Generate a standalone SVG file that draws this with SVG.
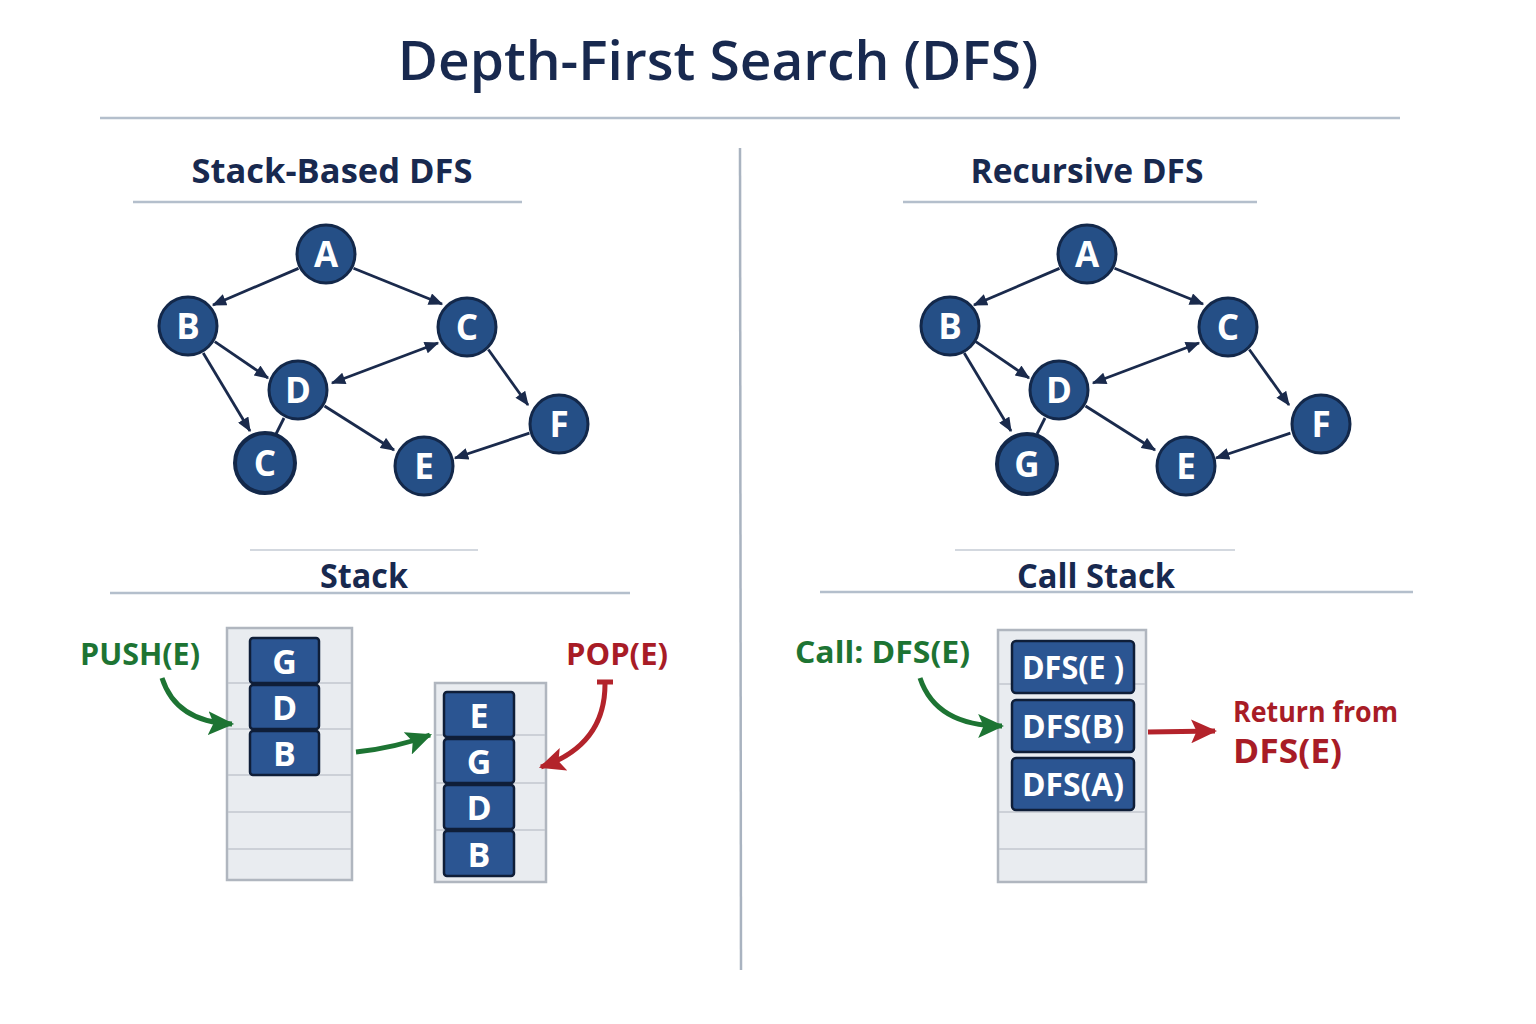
<svg xmlns="http://www.w3.org/2000/svg" width="1536" height="1024" viewBox="0 0 1536 1024">
<defs>
<style>
.title{font-family:"Open Sans","Noto Sans","Liberation Sans",sans-serif;font-weight:600;fill:#18294f;}
.sub{font-family:"Open Sans","Noto Sans","Liberation Sans",sans-serif;font-weight:700;fill:#18294f;font-size:34px;}
.node circle{fill:#254f86;stroke:#13284a;stroke-width:3;}
.node text{font-family:"Open Sans","Noto Sans","Liberation Sans",sans-serif;font-weight:700;fill:#fff;font-size:35px;text-anchor:middle;}
.edge{stroke:#1a2a4c;stroke-width:2.8;fill:none;}
.rule{stroke:#b4bfcc;stroke-width:2.5;fill:none;}
.box{fill:#e9ecf0;stroke:#b0b6bf;stroke-width:2.5;}
.row{stroke:#c2c7cf;stroke-width:1.5;}
.blk rect{fill:#2b5592;stroke:#0f1e38;stroke-width:2.5;}
.blk text{font-family:"Open Sans","Noto Sans","Liberation Sans",sans-serif;font-weight:700;fill:#fff;font-size:34px;text-anchor:middle;}
.green{fill:#1d7433;font-family:"Open Sans","Noto Sans","Liberation Sans",sans-serif;font-weight:700;font-size:30px;}
.red{fill:#a81c26;font-family:"Open Sans","Noto Sans","Liberation Sans",sans-serif;font-weight:700;}
.garrow{stroke:#1d7433;stroke-width:5;fill:none;}
.rarrow{stroke:#b3232b;stroke-width:5;fill:none;}
</style>
<marker id="ah" viewBox="0 0 12 10" refX="11" refY="5" markerWidth="15" markerHeight="12" markerUnits="userSpaceOnUse" orient="auto-start-reverse">
<path d="M0,0 L12,5 L0,10 z" fill="#1a2a4c"/>
</marker>
<marker id="gh" viewBox="0 0 24 22" refX="22" refY="11" markerWidth="26" markerHeight="24" markerUnits="userSpaceOnUse" orient="auto">
<path d="M0,0 L24,11 L0,22 L5,11 z" fill="#1d7433"/>
</marker>
<marker id="rh" viewBox="0 0 24 22" refX="22" refY="11" markerWidth="26" markerHeight="24" markerUnits="userSpaceOnUse" orient="auto">
<path d="M0,0 L24,11 L0,22 L5,11 z" fill="#b3232b"/>
</marker>
</defs>
<rect width="1536" height="1024" fill="#ffffff"/>

<text class="title" x="718" y="80" font-size="55" text-anchor="middle">Depth-First Search (DFS)</text>
<line class="rule" x1="100" y1="118" x2="1400" y2="118"/>
<line x1="740" y1="148" x2="741" y2="970" stroke="#a9b3c0" stroke-width="2.5"/>

<text class="sub" x="332" y="183" text-anchor="middle" textLength="281" lengthAdjust="spacingAndGlyphs">Stack-Based DFS</text>
<line class="rule" x1="133" y1="202" x2="522" y2="202"/>
<text class="sub" x="1087" y="183" text-anchor="middle" textLength="233" lengthAdjust="spacingAndGlyphs">Recursive DFS</text>
<line class="rule" x1="903" y1="202" x2="1257" y2="202"/>

<!-- Left graph connectors -->
<g id="connectors-left">
<line class="edge" x1="298.5" y1="268.4" x2="213" y2="305" marker-end="url(#ah)"/>
<line class="edge" x1="353.5" y1="268.3" x2="442" y2="304" marker-end="url(#ah)"/>
<line class="edge" x1="214.8" y1="341.6" x2="268" y2="378" marker-end="url(#ah)"/>
<line class="edge" x1="203.2" y1="353" x2="250" y2="431" marker-end="url(#ah)"/>
<line class="edge" x1="332" y1="383" x2="438" y2="343" marker-start="url(#ah)" marker-end="url(#ah)"/>
<line class="edge" x1="488.3" y1="349.5" x2="528" y2="405" marker-end="url(#ah)"/>
<line class="edge" x1="529.4" y1="433.2" x2="455" y2="458" marker-end="url(#ah)"/>
<line class="edge" x1="324.5" y1="406" x2="394" y2="450" marker-end="url(#ah)"/>
<line class="edge" x1="284" y1="418" x2="276" y2="434"/>
</g>
<g id="L-A" class="node"><circle cx="326" cy="254" r="29"/><text x="326" y="267">A</text></g>
<g id="L-B" class="node"><circle cx="188" cy="326" r="29"/><text x="188" y="339">B</text></g>
<g id="L-C" class="node"><circle cx="467" cy="327" r="29"/><text x="467" y="340">C</text></g>
<g id="L-D" class="node"><circle cx="298" cy="390" r="29"/><text x="298" y="403">D</text></g>
<g id="L-F" class="node"><circle cx="559" cy="424" r="29"/><text x="559" y="437">F</text></g>
<g id="L-C2" class="node"><circle cx="265" cy="463" r="30" style="stroke-width:4"/><text x="265" y="476">C</text></g>
<g id="L-E" class="node"><circle cx="424" cy="466" r="29"/><text x="424" y="479">E</text></g>

<!-- Right graph connectors -->
<g id="connectors-right" transform="translate(761,0)">
<line class="edge" x1="298.5" y1="268.4" x2="213" y2="305" marker-end="url(#ah)"/>
<line class="edge" x1="353.5" y1="268.3" x2="442" y2="304" marker-end="url(#ah)"/>
<line class="edge" x1="214.8" y1="341.6" x2="268" y2="378" marker-end="url(#ah)"/>
<line class="edge" x1="203.2" y1="353" x2="250" y2="431" marker-end="url(#ah)"/>
<line class="edge" x1="332" y1="383" x2="438" y2="343" marker-start="url(#ah)" marker-end="url(#ah)"/>
<line class="edge" x1="488.3" y1="349.5" x2="528" y2="405" marker-end="url(#ah)"/>
<line class="edge" x1="529.4" y1="433.2" x2="455" y2="458" marker-end="url(#ah)"/>
<line class="edge" x1="324.5" y1="406" x2="394" y2="450" marker-end="url(#ah)"/>
<line class="edge" x1="284" y1="418" x2="276" y2="434"/>
</g>
<g id="R-A" class="node"><circle cx="1087" cy="254" r="29"/><text x="1087" y="267">A</text></g>
<g id="R-B" class="node"><circle cx="950" cy="326" r="29"/><text x="950" y="339">B</text></g>
<g id="R-C" class="node"><circle cx="1228" cy="327" r="29"/><text x="1228" y="340">C</text></g>
<g id="R-D" class="node"><circle cx="1059" cy="390" r="29"/><text x="1059" y="403">D</text></g>
<g id="R-F" class="node"><circle cx="1321" cy="424" r="29"/><text x="1321" y="437">F</text></g>
<g id="R-G" class="node"><circle cx="1027" cy="464" r="30" style="stroke-width:4"/><text x="1027" y="477">G</text></g>
<g id="R-E" class="node"><circle cx="1186" cy="466" r="29"/><text x="1186" y="479">E</text></g>

<!-- Section headers -->
<line x1="250" y1="550" x2="478" y2="550" stroke="#d3d8df" stroke-width="2"/>
<text class="sub" x="364" y="588" text-anchor="middle" textLength="88" lengthAdjust="spacingAndGlyphs">Stack</text>
<line class="rule" x1="110" y1="593" x2="630" y2="593"/>
<line x1="955" y1="550" x2="1235" y2="550" stroke="#d3d8df" stroke-width="2"/>
<text class="sub" x="1096" y="588" text-anchor="middle" textLength="158" lengthAdjust="spacingAndGlyphs">Call Stack</text>
<line class="rule" x1="820" y1="592" x2="1413" y2="592"/>

<!-- Left stack 1 -->
<g id="stack1">
<rect class="box" x="227" y="628" width="125" height="252"/>
<line class="row" x1="228" y1="683" x2="351" y2="683"/>
<line class="row" x1="228" y1="729" x2="351" y2="729"/>
<line class="row" x1="228" y1="775" x2="351" y2="775"/>
<line class="row" x1="228" y1="812" x2="351" y2="812"/>
<line class="row" x1="228" y1="849" x2="351" y2="849"/>
<g class="blk"><rect x="250" y="638" width="69" height="45" rx="3"/><text x="284.5" y="674">G</text></g>
<g class="blk"><rect x="250" y="685" width="69" height="44" rx="3"/><text x="284.5" y="720">D</text></g>
<g class="blk"><rect x="250" y="731" width="69" height="44" rx="3"/><text x="284.5" y="766">B</text></g>
</g>

<!-- Left stack 2 -->
<g id="stack2">
<rect class="box" x="435" y="683" width="111" height="199"/>
<line class="row" x1="436" y1="735" x2="545" y2="735"/>
<line class="row" x1="436" y1="783" x2="545" y2="783"/>
<line class="row" x1="436" y1="830" x2="545" y2="830"/>
<g class="blk"><rect x="444" y="692" width="70" height="45" rx="3"/><text x="479" y="728">E</text></g>
<g class="blk"><rect x="444" y="739" width="70" height="44" rx="3"/><text x="479" y="774">G</text></g>
<g class="blk"><rect x="444" y="785" width="70" height="44" rx="3"/><text x="479" y="820">D</text></g>
<g class="blk"><rect x="444" y="831" width="70" height="45" rx="3"/><text x="479" y="867">B</text></g>
</g>

<!-- Call stack -->
<g id="callstack">
<rect class="box" x="998" y="630" width="148" height="252"/>
<line class="row" x1="999" y1="684" x2="1145" y2="684"/>
<line class="row" x1="999" y1="812" x2="1145" y2="812"/>
<line class="row" x1="999" y1="849" x2="1145" y2="849"/>
<g class="blk"><rect x="1012" y="641" width="122" height="52" rx="4"/><text x="1073" y="679" style="font-size:32px" textLength="102" lengthAdjust="spacingAndGlyphs">DFS(E )</text></g>
<g class="blk"><rect x="1012" y="700" width="122" height="52" rx="4"/><text x="1073" y="738" style="font-size:32px" textLength="102" lengthAdjust="spacingAndGlyphs">DFS(B)</text></g>
<g class="blk"><rect x="1012" y="758" width="122" height="52" rx="4"/><text x="1073" y="796" style="font-size:32px" textLength="102" lengthAdjust="spacingAndGlyphs">DFS(A)</text></g>
</g>

<!-- Labels -->
<text class="green" x="80" y="665" textLength="120" lengthAdjust="spacingAndGlyphs">PUSH(E)</text>
<text class="red" x="566" y="665" font-size="30" textLength="102" lengthAdjust="spacingAndGlyphs">POP(E)</text>
<text class="green" x="795" y="663" textLength="175" lengthAdjust="spacingAndGlyphs">Call: DFS(E)</text>
<text class="red" x="1233" y="722" font-size="28" textLength="165" lengthAdjust="spacingAndGlyphs">Return from</text>
<text class="red" x="1233" y="763" font-size="34" textLength="109" lengthAdjust="spacingAndGlyphs">DFS(E)</text>

<!-- Thick arrows -->
<g id="action-arrows">
<path class="garrow" d="M162,678 Q176,722 232,724" marker-end="url(#gh)"/>
<path class="garrow" d="M356,752 Q395,748 430,735" marker-end="url(#gh)"/>
<path class="rarrow" d="M597,682 L613,682 M605,682 Q606,745 541,767" marker-end="url(#rh)"/>
<path class="garrow" d="M920,678 Q936,726 1002,726" marker-end="url(#gh)"/>
<path class="rarrow" d="M1148,732 L1215,731" marker-end="url(#rh)"/>
</g>
</svg>
